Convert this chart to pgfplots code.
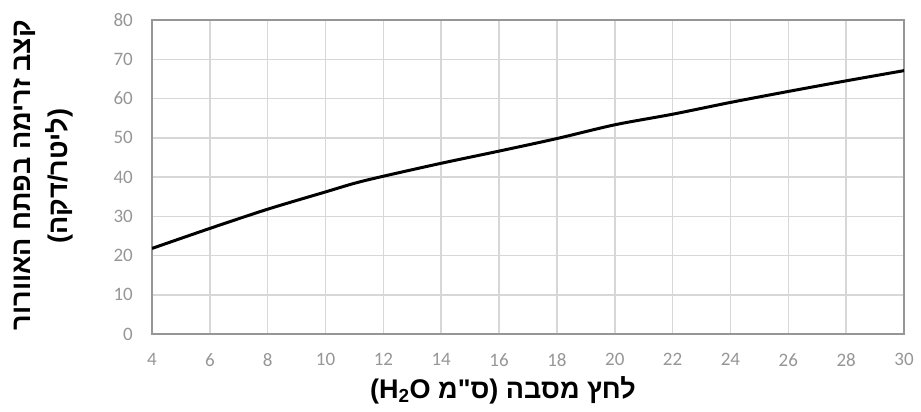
\documentclass[border=0pt]{standalone}
\usepackage{pgfplots}
\pgfplotsset{compat=1.18}
\usepackage{fontspec}
\setmainfont{Carlito}
\newfontfamily\hebfont[Script=Hebrew]{Liberation Sans}
\TeXXeTstate=1
\definecolor{gridc}{RGB}{215,215,215}
\definecolor{tickc}{RGB}{150,150,150}
\definecolor{framec}{RGB}{150,150,150}
\begin{document}
\begin{tikzpicture}[x=1pt,y=1pt]
\useasboundingbox (-152,-78) rectangle (769,334);
\begin{axis}[at={(0,0)}, anchor=south west, scale only axis,
  width=752pt, height=314pt,
  xmin=4, xmax=30, ymin=0, ymax=80,
  xtick={4,6,...,30}, ytick={0,10,...,80},
  grid=major, major grid style={gridc, line width=1.5pt},
  axis line style={framec, line width=2pt},
  major tick length=0pt,
  /pgf/number format/assume math mode=true,
  tick label style={font=\fontsize{19}{19}\selectfont, text=tickc},
  yticklabel style={inner sep=0pt, xshift=-19pt},
  xticklabel style={inner sep=0pt, yshift=-19pt},
]
\addplot[black, line width=3pt, smooth] coordinates {
(4,21.8) (6,26.9) (8,31.8) (10,36.2) (11,38.4) (12,40.2) (14,43.5)
(16,46.6) (18,49.8) (20,53.3) (22,56.0) (24,59.0) (26,61.8) (28,64.5) (30,67.1)};
\end{axis}
\node[font=\hebfont\bfseries\fontsize{27}{27}\selectfont, inner sep=0pt] at (351,-56)
  {\beginR לחץ מסבה (ס"מ \beginL H\textsubscript{2}O\endL)\endR};
\node[rotate=90, font=\hebfont\bfseries\fontsize{27}{27}\selectfont, inner sep=0pt] at (-127,159)
  {\beginR קצב זרימה בפתח האוורור\endR};
\node[rotate=90, font=\hebfont\bfseries\fontsize{27}{27}\selectfont, inner sep=0pt] at (-93,158)
  {\beginR(ליטר/דקה)\endR};
\end{tikzpicture}
\end{document}
